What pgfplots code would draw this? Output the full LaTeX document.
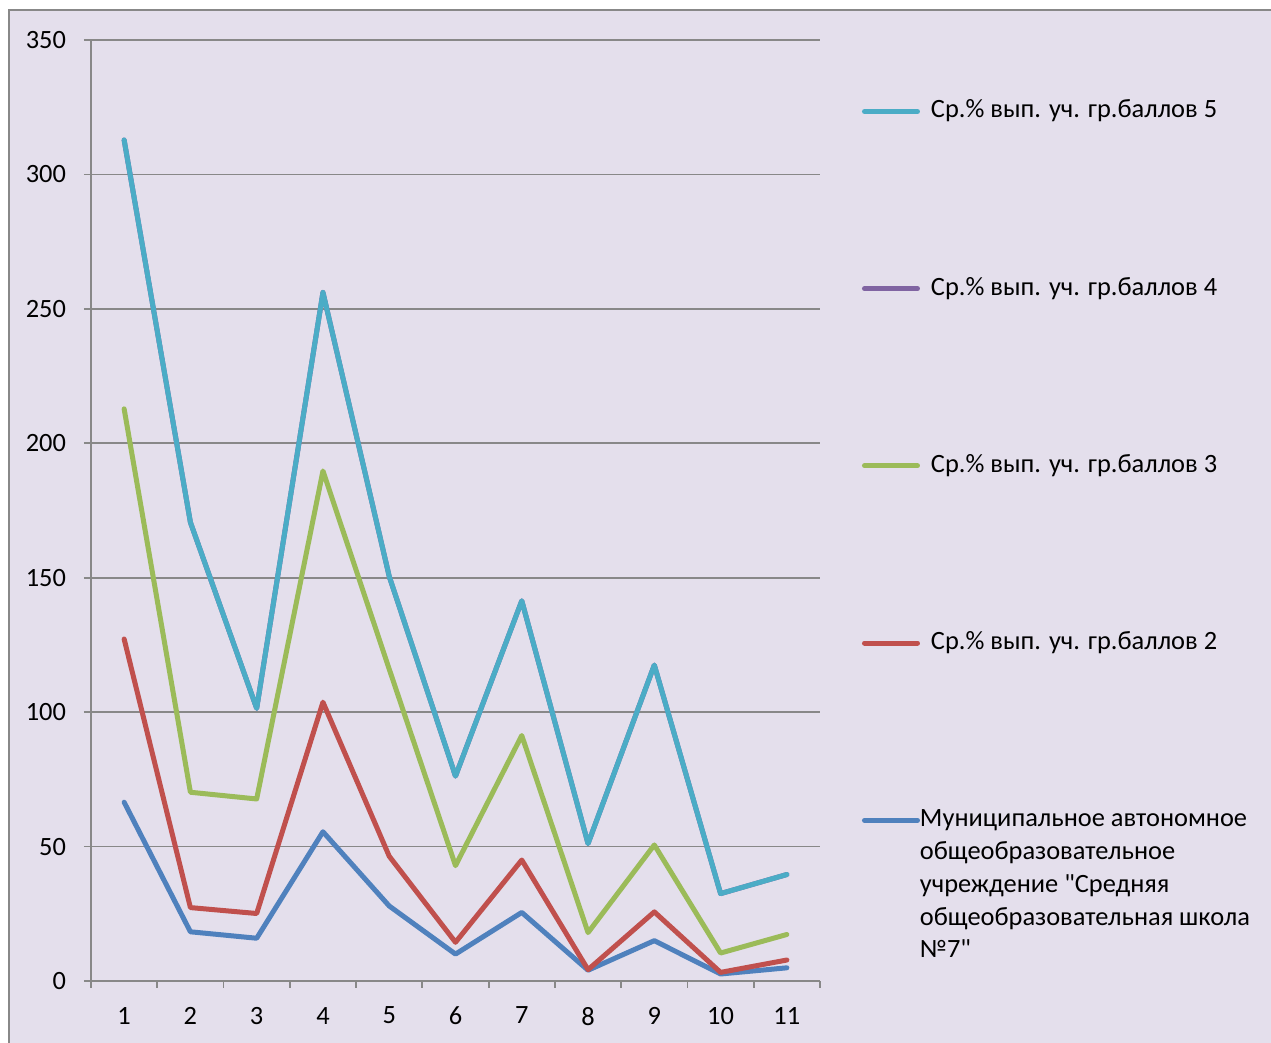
\documentclass[border=0pt]{standalone}
\usepackage{fontspec}
\setmainfont{Carlito}
\newfontfamily\qfont{Carlito}[Ligatures=TeXOff]
\usepackage{pgfplots}
\pgfplotsset{compat=1.18}
\definecolor{bgc}{HTML}{E4DFEC}
\definecolor{gridc}{HTML}{888888}
\definecolor{s1}{HTML}{4F81BD}
\definecolor{s2}{HTML}{C0504D}
\definecolor{s3}{HTML}{9BBB59}
\definecolor{s4}{HTML}{8064A2}
\definecolor{s5}{HTML}{4BACC6}
\begin{document}
\fontsize{13}{16}\selectfont
\begin{tikzpicture}
\useasboundingbox (0,0) rectangle (635.5pt,521.5pt);
\fill[white] (0,0) rectangle (635.5pt,521.5pt);
\fill[bgc] (4.5pt,0) rectangle (635.5pt,516.5pt);
\draw[gridc,line width=0.8pt] (4.5pt,0) -- (4.5pt,516.5pt) -- (635.5pt,516.5pt);
\begin{axis}[
  at={(45.5pt,31pt)}, anchor=south west,
  scale only axis, width=364.5pt, height=470.5pt,
  xmin=0.5, xmax=11.5, ymin=0, ymax=350,
  ytick={0,50,...,350},
  xtick={1,...,11},
  xticklabels={1,2,3,4,5,6,7,8,9,10,11},
  minor xtick={0.5,1.5,...,11.5},
  axis x line*=bottom, axis y line*=left,
  axis line style={gridc,line width=0.9pt},
  every tick/.style={gridc,line width=0.9pt},
  tick align=outside,
  major tick length=3.5pt, minor tick length=3.5pt,
  every major x tick/.append style={draw=none},
  ymajorgrids, major grid style={gridc,line width=0.9pt},
  /pgf/number format/assume math mode=true,
  tick label style={font=\fontsize{13.2}{16}\selectfont, text=black},
  yticklabel style={xshift=-4.5pt},
  xticklabel style={yshift=-5pt},
  clip=false,
  every axis plot/.append style={line width=2.5pt, line cap=round, line join=round},
  legend cell align=left,
  reverse legend,
  legend image code/.code={\draw[#1,line width=2.5pt] (0pt,0pt) -- (26.5pt,0pt);},
  legend style={at={(rel axis cs:1.0576,0.9373)}, anchor=north west,
    draw=none, fill=none, inner sep=0pt, outer sep=0pt,
    font=\fontsize{13.2}{16.4}\selectfont,
    nodes={inner sep=0pt, text height=9.5pt, text depth=3pt},
    row sep=76.1pt,
    /tikz/every odd column/.append style={column sep=5.5pt}},
]
\addplot[s1] coordinates {(1,66.5) (2,18.3) (3,15.9) (4,55.5) (5,27.9) (6,10.0) (7,25.5) (8,4.0) (9,15.0) (10,2.6) (11,4.9)};
\addlegendentry{\hspace{-5.5pt}\parbox[t]{172pt}{\raggedright Муниципальное автономное общеобразовательное учреждение {\qfont"}Средняя общеобразовательная школа №7{\qfont"}}}
\addplot[s2] coordinates {(1,127.2) (2,27.3) (3,25.1) (4,103.7) (5,46.4) (6,14.4) (7,45.0) (8,4.2) (9,25.7) (10,3.2) (11,7.8)};
\addlegendentry{Ср.\% вып. уч. гр.баллов 2}
\addplot[s3] coordinates {(1,212.8) (2,70.2) (3,67.7) (4,189.7) (5,116.0) (6,42.9) (7,91.3) (8,18.0) (9,50.6) (10,10.4) (11,17.3)};
\addlegendentry{Ср.\% вып. уч. гр.баллов 3}
\addplot[s4] coordinates {(1,312.8) (2,170.6) (3,101.4) (4,256.1) (5,150.5) (6,76.2) (7,141.4) (8,51.1) (9,117.5) (10,32.5) (11,39.6)};
\addlegendentry{Ср.\% вып. уч. гр.баллов 4}
\addplot[s5] coordinates {(1,312.8) (2,170.6) (3,101.4) (4,256.1) (5,150.5) (6,76.2) (7,141.4) (8,51.1) (9,117.5) (10,32.5) (11,39.6)};
\addlegendentry{Ср.\% вып. уч. гр.баллов 5}
\end{axis}
\end{tikzpicture}
\end{document}
